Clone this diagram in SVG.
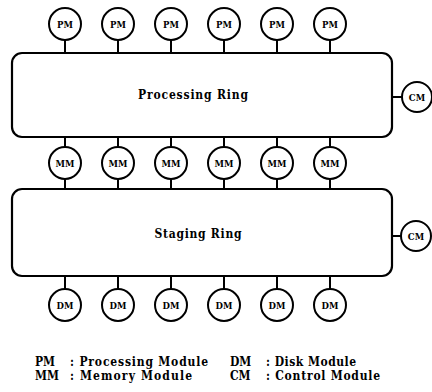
<svg xmlns="http://www.w3.org/2000/svg" width="432" height="392" viewBox="0 0 432 392">
<style>
.ring{fill:#fff;stroke:#000;stroke-width:2.2}
.mod{fill:#fff;stroke:#000;stroke-width:2}
.lbl{font-family:"DejaVu Serif Condensed","DejaVu Serif","Liberation Serif",serif;font-weight:bold;font-size:9.5px;text-anchor:middle;dominant-baseline:central;fill:#000}
.big{font-family:"DejaVu Serif Condensed","DejaVu Serif","Liberation Serif",serif;font-weight:bold;font-size:12px;text-anchor:middle;dominant-baseline:central;fill:#000}
.leg{font-family:"DejaVu Serif Condensed","DejaVu Serif","Liberation Serif",serif;font-weight:bold;font-size:12px;fill:#000}
.conn line{stroke:#000;stroke-width:2}
</style>
<rect width="432" height="392" fill="#fff"/>
<g id="connectors" class="conn">
<line x1="65" y1="40" x2="65" y2="53"/>
<line x1="118" y1="40" x2="118" y2="53"/>
<line x1="171" y1="40" x2="171" y2="53"/>
<line x1="224" y1="40" x2="224" y2="53"/>
<line x1="277" y1="40" x2="277" y2="53"/>
<line x1="330" y1="40" x2="330" y2="53"/>
<line x1="65" y1="137" x2="65" y2="189"/>
<line x1="118" y1="137" x2="118" y2="189"/>
<line x1="171" y1="137" x2="171" y2="189"/>
<line x1="224" y1="137" x2="224" y2="189"/>
<line x1="277" y1="137" x2="277" y2="189"/>
<line x1="330" y1="137" x2="330" y2="189"/>
<line x1="65" y1="276" x2="65" y2="290"/>
<line x1="118" y1="276" x2="118" y2="290"/>
<line x1="171" y1="276" x2="171" y2="290"/>
<line x1="224" y1="276" x2="224" y2="290"/>
<line x1="277" y1="276" x2="277" y2="290"/>
<line x1="330" y1="276" x2="330" y2="290"/>
<line x1="392" y1="97" x2="402" y2="97"/>
<line x1="392" y1="236" x2="401" y2="236"/>
</g>
<g id="processing-ring"><rect class="ring" x="12" y="53" width="380" height="84" rx="10"/><text class="big" x="193" y="95" textLength="110">Processing Ring</text></g>
<g id="staging-ring"><rect class="ring" x="12" y="189" width="380" height="87" rx="10"/><text class="big" x="198" y="234" textLength="87">Staging Ring</text></g>
<g id="pm1"><circle class="mod" cx="65" cy="24" r="16"/><text class="lbl" x="65" y="24">PM</text></g>
<g id="pm2"><circle class="mod" cx="118" cy="24" r="16"/><text class="lbl" x="118" y="24">PM</text></g>
<g id="pm3"><circle class="mod" cx="171" cy="24" r="16"/><text class="lbl" x="171" y="24">PM</text></g>
<g id="pm4"><circle class="mod" cx="224" cy="24" r="16"/><text class="lbl" x="224" y="24">PM</text></g>
<g id="pm5"><circle class="mod" cx="277" cy="24" r="16"/><text class="lbl" x="277" y="24">PM</text></g>
<g id="pm6"><circle class="mod" cx="330" cy="24" r="16"/><text class="lbl" x="330" y="24">PM</text></g>
<g id="mm1"><circle class="mod" cx="65" cy="163" r="16"/><text class="lbl" x="65" y="163">MM</text></g>
<g id="mm2"><circle class="mod" cx="118" cy="163" r="16"/><text class="lbl" x="118" y="163">MM</text></g>
<g id="mm3"><circle class="mod" cx="171" cy="163" r="16"/><text class="lbl" x="171" y="163">MM</text></g>
<g id="mm4"><circle class="mod" cx="224" cy="163" r="16"/><text class="lbl" x="224" y="163">MM</text></g>
<g id="mm5"><circle class="mod" cx="277" cy="163" r="16"/><text class="lbl" x="277" y="163">MM</text></g>
<g id="mm6"><circle class="mod" cx="330" cy="163" r="16"/><text class="lbl" x="330" y="163">MM</text></g>
<g id="dm1"><circle class="mod" cx="65" cy="305" r="16"/><text class="lbl" x="65" y="305">DM</text></g>
<g id="dm2"><circle class="mod" cx="118" cy="305" r="16"/><text class="lbl" x="118" y="305">DM</text></g>
<g id="dm3"><circle class="mod" cx="171" cy="305" r="16"/><text class="lbl" x="171" y="305">DM</text></g>
<g id="dm4"><circle class="mod" cx="224" cy="305" r="16"/><text class="lbl" x="224" y="305">DM</text></g>
<g id="dm5"><circle class="mod" cx="277" cy="305" r="16"/><text class="lbl" x="277" y="305">DM</text></g>
<g id="dm6"><circle class="mod" cx="330" cy="305" r="16"/><text class="lbl" x="330" y="305">DM</text></g>
<g id="cm1"><circle class="mod" cx="417" cy="97" r="15"/><text class="lbl" x="417" y="97">CM</text></g>
<g id="cm2"><circle class="mod" cx="416" cy="236" r="15"/><text class="lbl" x="416" y="236">CM</text></g>
<g id="legend">
<text class="leg" x="35" y="366">PM</text>
<text class="leg" x="70" y="366" textLength="138">: Processing Module</text>
<text class="leg" x="35" y="380">MM</text>
<text class="leg" x="70" y="380" textLength="122">: Memory Module</text>
<text class="leg" x="230" y="366">DM</text>
<text class="leg" x="266" y="366" textLength="90">: Disk Module</text>
<text class="leg" x="230" y="380">CM</text>
<text class="leg" x="266" y="380" textLength="114">: Control Module</text>
</g>
</svg>
